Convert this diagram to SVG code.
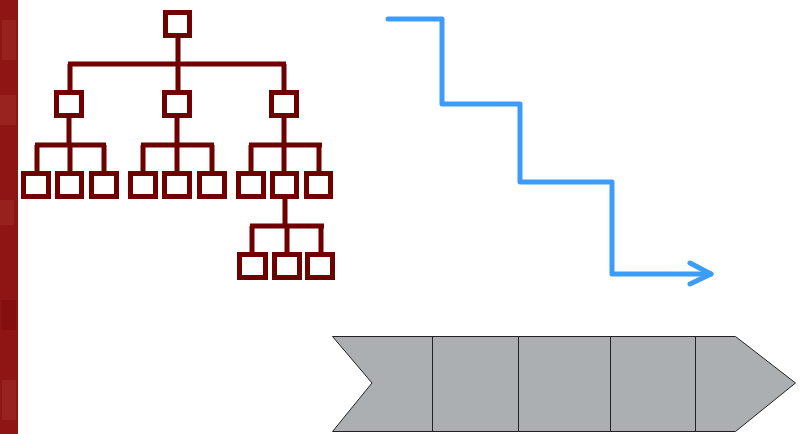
<svg xmlns="http://www.w3.org/2000/svg" width="803" height="434" viewBox="0 0 803 434">
<style>
.box{fill:#fff;stroke:#6e0000;stroke-width:5}
.ln{fill:none;stroke:#6e0000;stroke-width:5}
.stair{fill:none;stroke:#3d9cf7;stroke-width:5;stroke-linejoin:round;stroke-linecap:round}
.seg{fill:#abafb2;stroke:#222;stroke-width:1}
</style>
<rect width="803" height="434" fill="#fff"/>
<g id="strip">
<rect x="0" y="0" width="18" height="434" fill="#8f1515"/>
<rect x="2" y="20" width="14" height="40" fill="#9c2a22" opacity="0.6"/>
<rect x="0" y="95" width="16" height="30" fill="#a33228" opacity="0.5"/>
<rect x="0" y="200" width="14" height="25" fill="#9e2e25" opacity="0.5"/>
<rect x="1" y="300" width="15" height="30" fill="#7e0a0a" opacity="0.6"/>
<rect x="2" y="380" width="14" height="40" fill="#a0302a" opacity="0.5"/>
</g>
<g id="connectors">
<path class="ln" d="M178 37V64M68 64H286M70 64V91M178 64V91M284 64V91"/>
<path class="ln" d="M69 118V145M35 145H106M37 145V172M70 145V172M104 145V172"/>
<path class="ln" d="M177 118V145M141 145H214M143 145V172M177 145V172M212 145V172"/>
<path class="ln" d="M284 118V145M249 145H322M251 145V172M284 145V172M319 145V172"/>
<path class="ln" d="M285 199V226M250 226H324M252 226V253M287 226V253M321 226V253"/>
</g>
<g id="n0"><rect class="box" x="165.5" y="12.5" width="24" height="23"/></g>
<g id="n1"><rect class="box" x="56.5" y="92.5" width="25" height="23"/></g>
<g id="n2"><rect class="box" x="164.5" y="92.5" width="25" height="23"/></g>
<g id="n3"><rect class="box" x="271.5" y="92.5" width="25" height="23"/></g>
<g id="n4"><rect class="box" x="23.5" y="173.5" width="25" height="23"/></g>
<g id="n5"><rect class="box" x="57.5" y="173.5" width="24" height="23"/></g>
<g id="n6"><rect class="box" x="91.5" y="173.5" width="25" height="23"/></g>
<g id="n7"><rect class="box" x="130.5" y="173.5" width="25" height="23"/></g>
<g id="n8"><rect class="box" x="164.5" y="173.5" width="25" height="23"/></g>
<g id="n9"><rect class="box" x="199.5" y="173.5" width="25" height="23"/></g>
<g id="n10"><rect class="box" x="238.5" y="173.5" width="25" height="23"/></g>
<g id="n11"><rect class="box" x="272.5" y="173.5" width="24" height="23"/></g>
<g id="n12"><rect class="box" x="306.5" y="173.5" width="24" height="23"/></g>
<g id="n13"><rect class="box" x="239.5" y="254.5" width="26" height="23"/></g>
<g id="n14"><rect class="box" x="274.5" y="254.5" width="25" height="23"/></g>
<g id="n15"><rect class="box" x="307.5" y="254.5" width="25" height="23"/></g>
<g id="staircase">
<path class="stair" d="M388 19H442V104H520V182H612V274H711"/>
<path class="stair" d="M690 263L711 274L690 284"/>
</g>
<g id="chevron">
<path class="seg" d="M332.5 336.5H735.5L795.5 383L735.5 431.5H332.5L372 383Z"/>
<path class="seg" d="M432.5 336.5V431.5M518.5 336.5V431.5M610.5 336.5V431.5M695.5 336.5V431.5"/>
</g>
</svg>
